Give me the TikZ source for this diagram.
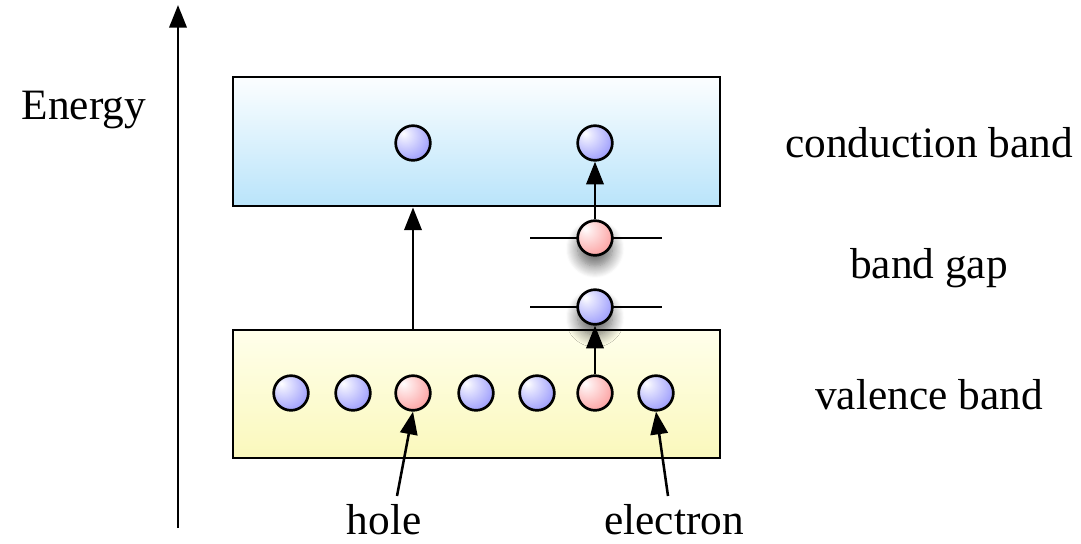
\documentclass[tikz,border=0pt]{standalone}
\usepackage{fontspec}
\setmainfont{Liberation Serif}
\usetikzlibrary{arrows.meta,shadows.blur}
\definecolor{ballblue}{RGB}{155,155,252}
\definecolor{ballbluedark}{RGB}{100,100,238}
\definecolor{ballred}{RGB}{252,160,160}
\definecolor{ballreddark}{RGB}{235,100,100}
\definecolor{cbtop}{RGB}{252,254,255}
\definecolor{cbbot}{RGB}{185,228,250}
\definecolor{vbtop}{RGB}{255,255,235}
\definecolor{vbbot}{RGB}{250,248,188}
\pgfdeclareradialshading{blueball}{\pgfpoint{-14bp}{14bp}}{color(0bp)=(white); color(8bp)=(white!75!ballblue); color(36bp)=(ballblue); color(62bp)=(ballbluedark); color(80bp)=(ballbluedark)}
\pgfdeclareradialshading{redball}{\pgfpoint{-14bp}{14bp}}{color(0bp)=(white); color(8bp)=(white!75!ballred); color(36bp)=(ballred); color(62bp)=(ballreddark); color(80bp)=(ballreddark)}
\tikzset{
  ball/.style={circle, draw, line width=2pt, minimum size=26pt, inner sep=0pt},
  eball/.style={ball, shading=blueball},
  hball/.style={ball, shading=redball},
  band/.style={draw, line width=2.2pt, minimum width=365.25pt, inner sep=0pt},
  arr/.style={line width=1.9pt, -{Triangle[length=17pt,width=13pt]}},
  lvl/.style={line width=1.9pt},
  lbl/.style={font=\fontsize{32.5}{39}\selectfont, inner sep=0pt},
  gshadow/.style={blur shadow={shadow xshift=0pt, shadow yshift=-8pt, shadow blur radius=9pt, shadow blur steps=12, shadow opacity=60}}
}
\begin{document}
\begin{tikzpicture}[x=0.75pt,y=-0.75pt]
\useasboundingbox (0,0) rectangle (1081,543);
% bands
\node[band, minimum height=96.75pt, top color=cbtop, bottom color=cbbot] (cond) at (476.5,141.5) {};
\node[band, minimum height=96pt, top color=vbtop, bottom color=vbbot] (val) at (476.5,394) {};
% energy axis
\coordinate (e0) at (178,528);
\coordinate (e1) at (178,5);
\draw[arr] (e0) -- (e1);
\node[lbl, anchor=base] (energy) at (84,119) {Energy};
% conduction electrons
\node[eball] (c1) at (413,143) {};
\node[eball] (c2) at (595,143) {};
% band gap levels
\coordinate (l2a) at (530,238);
\coordinate (l2b) at (662,238);
\coordinate (l1a) at (530,307);
\coordinate (l1b) at (662,307);
\draw[lvl] (l2a) -- (l2b);
\draw[lvl] (l1a) -- (l1b);
\node[hball, gshadow] (g2) at (595,238) {};
\node[eball, gshadow] (g1) at (595,307) {};
% valence
\node[eball] (v1) at (291,393) {};
\node[eball] (v2) at (353,393) {};
\node[hball] (v3) at (413,393) {};
\node[eball] (v4) at (476,393) {};
\node[eball] (v5) at (537,393) {};
\node[hball] (v6) at (595,393) {};
\node[eball] (v7) at (656,393) {};
% transitions
\draw[arr] (v3 |- val.north) -- (v3 |- cond.south);
\draw[arr] (v6.north) -- (g1.south);
\draw[arr] (g2.north) -- (c2.south);
% band labels
\node[lbl] (cbl) at (929,143) {conduction band};
\node[lbl] (bgl) at (929,268) {band gap};
\node[lbl] (vbl) at (929,395) {valence band};
% hole / electron
\node[lbl, anchor=base] (hole) at (384,534) {hole};
\node[lbl, anchor=base] (elec) at (674,534) {electron};
\coordinate (ht) at (397,496);
\coordinate (et) at (668,496);
\draw[arr] (ht) -- (v3.south);
\draw[arr] (et) -- (v7.south);
\end{tikzpicture}
\end{document}
